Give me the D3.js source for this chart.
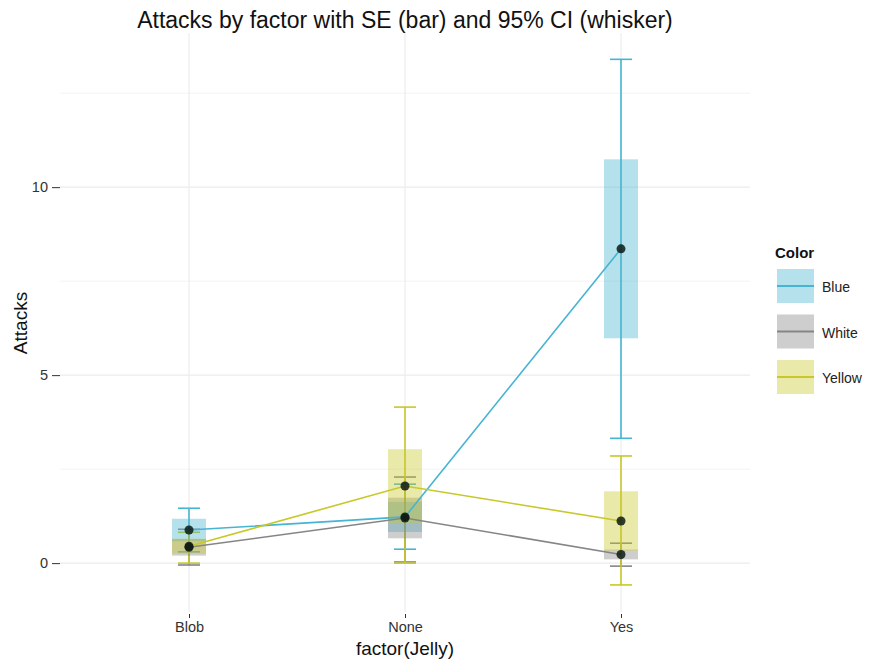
<!DOCTYPE html>
<html><head><meta charset="utf-8">
<script src="https://cdn.jsdelivr.net/npm/d3@7"></script>
<style>body{margin:0;background:#fff;} text{font-family:"Liberation Sans",Arial,Helvetica,sans-serif;}</style>
</head><body><svg id="c" width="870" height="663"></svg>
<script>
const categories = ["Blob", "None", "Yes"];
const colors = ["Blue", "White", "Yellow"];
// means per color, per category
const meanBlue   = [0.88, 1.23, 8.36];
const meanWhite  = [0.42, 1.20, 0.23];
const meanYellow = [0.45, 2.05, 1.12];
// standard errors
const seBlue   = [0.30, 0.40, 2.38];
const seWhite  = [0.22, 0.54, 0.13];
const seYellow = [0.20, 0.98, 0.79];
// 95% CI
const ciLowBlue   = [0.30, 0.37, 3.32];
const ciHighBlue  = [1.46, 2.10, 13.40];
const ciLowWhite  = [-0.05, 0.03, -0.08];
const ciHighWhite = [0.90, 2.29, 0.53];
const ciLowYellow = [0.00, 0.00, -0.58];
const ciHighYellow= [0.82, 4.15, 2.85];
const yTicks = [0, 5, 10];
const yMinor = [2.5, 7.5, 12.5];

const lineCol = {Blue:"#46b4d3", White:"#858585", Yellow:"#c8c828"};
const series = [
  {name:"Blue", mean:meanBlue, se:seBlue, lo:ciLowBlue, hi:ciHighBlue},
  {name:"White", mean:meanWhite, se:seWhite, lo:ciLowWhite, hi:ciHighWhite},
  {name:"Yellow", mean:meanYellow, se:seYellow, lo:ciLowYellow, hi:ciHighYellow}
];

const svg = d3.select("#c");
const L=60, R=750, T=33, B=612;
const x = d3.scalePoint().domain(categories).range([189, 621]);
const y = d3.scaleLinear().domain([-1.3, 14.1]).range([B, T]);

// grid
const g = svg.append("g");
g.selectAll(".mn").data(yMinor).join("line").attr("x1",L).attr("x2",R)
  .attr("y1",d=>y(d)).attr("y2",d=>y(d)).attr("stroke","#f3f3f3").attr("stroke-width",1);
g.selectAll(".mj").data(yTicks).join("line").attr("x1",L).attr("x2",R)
  .attr("y1",d=>y(d)).attr("y2",d=>y(d)).attr("stroke","#ebebeb").attr("stroke-width",1.1);
g.selectAll(".vx").data(categories).join("line").attr("y1",T).attr("y2",B)
  .attr("x1",d=>x(d)).attr("x2",d=>x(d)).attr("stroke","#ebebeb").attr("stroke-width",1.1);

// axes
const ya = svg.append("g").attr("transform",`translate(${L},0)`)
  .call(d3.axisLeft(y).tickValues(yTicks).tickSize(8).tickPadding(4));
ya.select(".domain").remove();
ya.selectAll("line").attr("stroke","#333");
ya.selectAll("text").attr("font-size",14.5).attr("fill","#333");
const xa = svg.append("g").attr("transform",`translate(0,${B+2})`)
  .call(d3.axisBottom(x).tickSize(4).tickPadding(4));
xa.select(".domain").remove();
xa.selectAll("line").attr("stroke","#333");
xa.selectAll("text").attr("font-size",14.5).attr("fill","#333");

const bw = 34, cw = 22;
// whiskers
series.forEach(s=>{
  const gg = svg.append("g").attr("stroke",lineCol[s.name]).attr("stroke-width",1.6);
  categories.forEach((c,i)=>{
    gg.append("line").attr("x1",x(c)).attr("x2",x(c)).attr("y1",y(s.lo[i])).attr("y2",y(s.hi[i]));
    gg.append("line").attr("x1",x(c)-cw/2).attr("x2",x(c)+cw/2).attr("y1",y(s.lo[i])).attr("y2",y(s.lo[i]));
    gg.append("line").attr("x1",x(c)-cw/2).attr("x2",x(c)+cw/2).attr("y1",y(s.hi[i])).attr("y2",y(s.hi[i]));
  });
});
// SE boxes
series.forEach(s=>{
  svg.append("g").selectAll("rect").data(categories).join("rect")
    .attr("x",c=>x(c)-bw/2).attr("width",bw)
    .attr("y",(c,i)=>y(s.mean[i]+s.se[i]))
    .attr("height",(c,i)=>y(s.mean[i]-s.se[i])-y(s.mean[i]+s.se[i]))
    .attr("fill",lineCol[s.name]).attr("fill-opacity",0.4);
});
// lines
const line = d3.line().x((d,i)=>x(categories[i])).y(d=>y(d));
series.forEach(s=>{
  svg.append("path").datum(s.mean).attr("d",line).attr("fill","none")
    .attr("stroke",lineCol[s.name]).attr("stroke-width",1.6);
});
// points
series.forEach(s=>{
  svg.append("g").selectAll("circle").data(s.mean).join("circle")
    .attr("cx",(d,i)=>x(categories[i])).attr("cy",d=>y(d)).attr("r",4.5)
    .attr("fill","#0d1a14").attr("fill-opacity",0.85);
});

// titles
svg.append("text").attr("x",405).attr("y",28).attr("text-anchor","middle")
  .attr("font-size",23).attr("fill","#111").text("Attacks by factor with SE (bar) and 95% CI (whisker)");
svg.append("text").attr("x",405).attr("y",655).attr("text-anchor","middle")
  .attr("font-size",19).attr("fill","#111").text("factor(Jelly)");
svg.append("text").attr("transform","translate(27,323) rotate(-90)").attr("text-anchor","middle")
  .attr("font-size",19).attr("fill","#111").text("Attacks");

// legend
const lg = svg.append("g");
lg.append("text").attr("x",775).attr("y",258).attr("font-size",15).attr("font-weight","bold").attr("fill","#111").text("Color");
colors.forEach((c,i)=>{
  const yy = 269 + i*45.5;
  lg.append("rect").attr("x",777).attr("y",yy).attr("width",37).attr("height",34)
    .attr("fill",lineCol[c]).attr("fill-opacity",0.4);
  lg.append("line").attr("x1",777).attr("x2",814).attr("y1",yy+17).attr("y2",yy+17)
    .attr("stroke",lineCol[c]).attr("stroke-width",1.8);
  lg.append("text").attr("x",822).attr("y",yy+23).attr("font-size",14).attr("fill","#222").text(c);
});
</script></body></html>
